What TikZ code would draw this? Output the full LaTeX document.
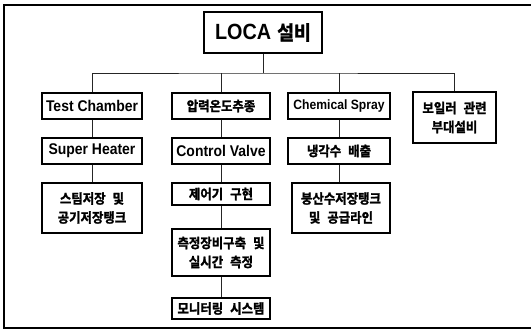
\documentclass[tikz,border=0pt]{standalone}
\usepackage{fontspec}
\newfontfamily\lat{Liberation Sans}[FakeStretch=0.9]
\newfontfamily\kr{Noto Sans CJK KR Bold}[FakeStretch=0.92,FakeBold=1.6]
\begin{document}
\begin{tikzpicture}[x=1pt,y=-1pt,
  box/.style={draw=black,line width=1.1pt,rectangle,inner sep=0pt,align=center,
     font=\kr\fontsize{13.5}{19}\selectfont},
  latbox/.style={box,font=\lat\bfseries\fontsize{15.5}{17}\selectfont},
  conn/.style={draw=black!85,line width=0.8pt},
  frame/.style={draw=black,line width=1.4pt}]
\useasboundingbox (0,0) rectangle (531,329);
% frame
\draw[frame] (531,5) -- (4,5) -- (4,328) -- (531,328);
% root
\node[box,minimum width=118pt,minimum height=41pt] (loca) at (263,32.5)
  {{\lat\bfseries\fontsize{22}{24}\selectfont LOCA}\hspace{6pt}{\kr\fontsize{20}{24}\selectfont 설비}};
% level 1
\node[latbox,minimum width=100pt,minimum height=26pt] (tc) at (92,106) {Test Chamber};
\node[box,minimum width=98pt,minimum height=26pt] (pt) at (221,106) {압력온도추종};
\node[latbox,minimum width=102pt,minimum height=26pt,font=\lat\bfseries\fontsize{13.5}{15}\selectfont] (cs) at (339,106) {Chemical Spray};
\node[box,minimum width=83pt,minimum height=51pt] (boil) at (454.5,117.5) {보일러\hspace{7pt}관련\\부대설비};
% level 2
\node[latbox,minimum width=100pt,minimum height=26pt] (sh) at (92,151) {Super Heater};
\node[latbox,minimum width=98pt,minimum height=26pt] (cv) at (221,151) {Control Valve};
\node[box,minimum width=102pt,minimum height=26pt] (cool) at (339,151) {냉각수\hspace{7pt}배출};
% level 3
\node[box,minimum width=100pt,minimum height=50pt] (steam) at (92,208) {스팀저장\hspace{7pt}및\\공기저장탱크};
\node[box,minimum width=98pt,minimum height=22pt] (ctl) at (221,194) {제어기\hspace{7pt}구현};
\node[box,minimum width=98pt,minimum height=50pt] (boron) at (341,208) {붕산수저장탱크\\및\hspace{7pt}공급라인};
% level 4,5
\node[box,minimum width=98pt,minimum height=47pt] (meas) at (221,252.5) {측정장비구축\hspace{7pt}및\\실시간\hspace{7pt}측정};
\node[box,minimum width=98pt,minimum height=21pt] (mon) at (221,308.5) {모니터링\hspace{7pt}시스템};
% connectors
\coordinate (j0) at (263,73);
\draw[conn] (loca) -- (j0);
\draw[conn] (tc.north) |- (j0) -| (boil.north);
\draw[conn] (pt.north) -- (pt.north |- j0);
\draw[conn] (cs.north) -- (cs.north |- j0);
\draw[conn] (tc) -- (sh);
\draw[conn] (sh) -- (steam);
\draw[conn] (pt) -- (cv);
\draw[conn] (cv) -- (ctl);
\draw[conn] (ctl) -- (meas);
\draw[conn] (meas) -- (mon);
\draw[conn] (cs) -- (cool);
\draw[conn] (cool) -- (cool |- boron.north);
\end{tikzpicture}
\end{document}
